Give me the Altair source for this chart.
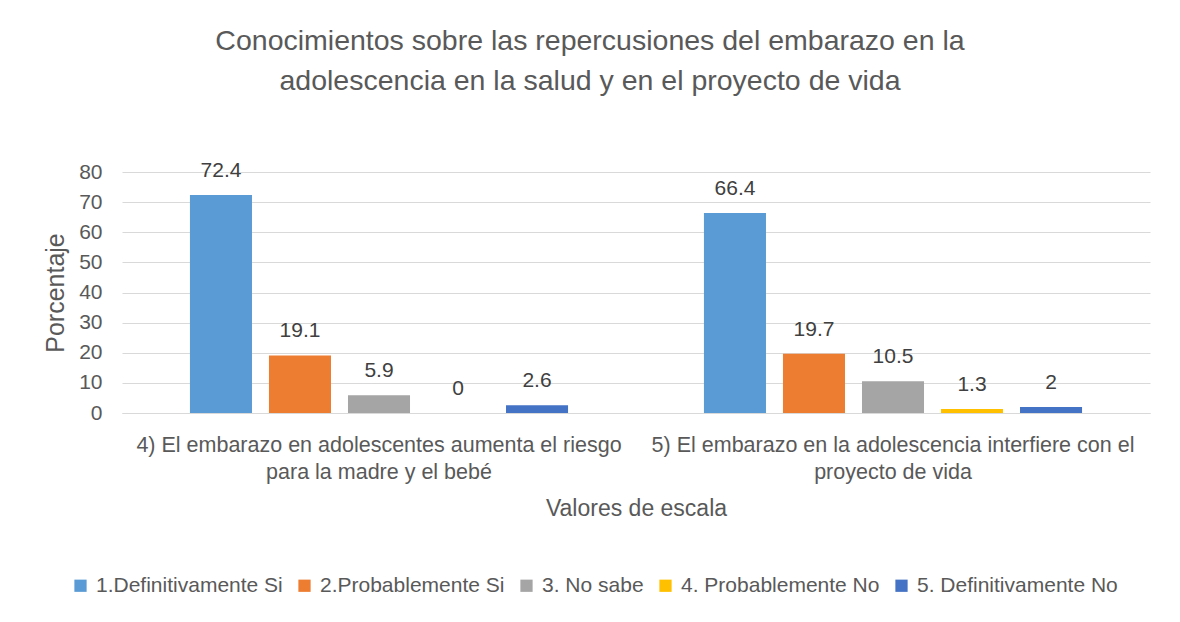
import altair as alt
import pandas as pd

category_lines = [
    ["4) El embarazo en adolescentes aumenta el riesgo", "para la madre y el bebé"],
    ["5) El embarazo en la adolescencia interfiere con el", "proyecto de vida"],
]
categories = [" ".join(l) for l in category_lines]
series = ["1.Definitivamente Si", "2.Probablemente Si", "3. No sabe",
          "4. Probablemente No", "5. Definitivamente No"]
values_q4 = [72.4, 19.1, 5.9, 0, 2.6]
values_q5 = [66.4, 19.7, 10.5, 1.3, 2]
colors = ["#5B9BD5", "#ED7D31", "#A5A5A5", "#FFC000", "#4472C4"]
y_ticks = [0, 10, 20, 30, 40, 50, 60, 70, 80]

rows = []
for cat, vals in zip(categories, [values_q4, values_q5]):
    for s, v in zip(series, vals):
        rows.append({"categoria": cat, "serie": s, "valor": v, "etiqueta": "{:g}".format(v)})
df = pd.DataFrame(rows)

label_expr = " : ".join(
    "datum.label == '{}' ? [{}]".format(c, ", ".join("'{}'".format(x) for x in l))
    for c, l in zip(categories, category_lines)
) + " : datum.label"

FONT = "Liberation Sans"
GRAY = "#595959"

x_enc = alt.X("categoria:N", sort=categories,
              scale=alt.Scale(paddingInner=0, paddingOuter=0),
              axis=alt.Axis(title="Valores de escala", labelAngle=0, labelExpr=label_expr,
                            labelFontSize=21.5, labelColor=GRAY, labelLineHeight=27,
                            labelPadding=21, labelLimit=700,
                            titleFontSize=23, titleColor=GRAY, titleFontWeight="normal",
                            titlePadding=15, ticks=False, domainColor="#D9D9D9",
                            labelBaseline="top"))
xo_enc = alt.XOffset("serie:N", sort=series,
                     scale=alt.Scale(paddingInner=0.215, paddingOuter=0.86))
y_enc = alt.Y("valor:Q", scale=alt.Scale(domain=[0, 80], nice=False),
              axis=alt.Axis(title="Porcentaje", values=y_ticks, tickCount=9,
                            labelOverlap=False, labelFontSize=21,
                            labelColor=GRAY, labelPadding=20, domain=False, ticks=False,
                            gridColor="#D9D9D9", titleFontSize=25, titleColor=GRAY,
                            titleFontWeight="normal", titlePadding=10))

base = alt.Chart(df)

bars = base.mark_bar().encode(
    x=x_enc,
    xOffset=xo_enc,
    y=y_enc,
    color=alt.Color("serie:N", sort=series,
                    scale=alt.Scale(domain=series, range=colors),
                    legend=alt.Legend(title=None, orient="none", direction="horizontal",
                                      legendX=-52, legendY=403, symbolType="square",
                                      symbolSize=150, labelFontSize=21, labelColor=GRAY,
                                      columnPadding=11, labelOffset=5, labelLimit=400,
                                      symbolStrokeWidth=0)),
)

texts = base.mark_text(baseline="alphabetic", dy=-18, fontSize=21, color="#404040").encode(
    x=x_enc,
    xOffset=xo_enc,
    y=y_enc,
    text="etiqueta:N",
)

chart = alt.layer(bars, texts).properties(
    width=1028, height=241,
    autosize=alt.AutoSizeParams(type="none"),
    padding={"left": 114, "top": 164, "right": 22, "bottom": 201},
    title=alt.TitleParams(
        text=["Conocimientos sobre las repercusiones del embarazo en la",
              "adolescencia en la salud y en el proyecto de vida"],
        fontSize=28.5, color=GRAY, fontWeight="normal", anchor="middle",
        dx=-46, offset=64, lineHeight=40, font=FONT,
    ),
).configure(font=FONT).configure_view(stroke=None)

chart.save("out.html", embed_options={"renderer": "svg", "actions": False})
